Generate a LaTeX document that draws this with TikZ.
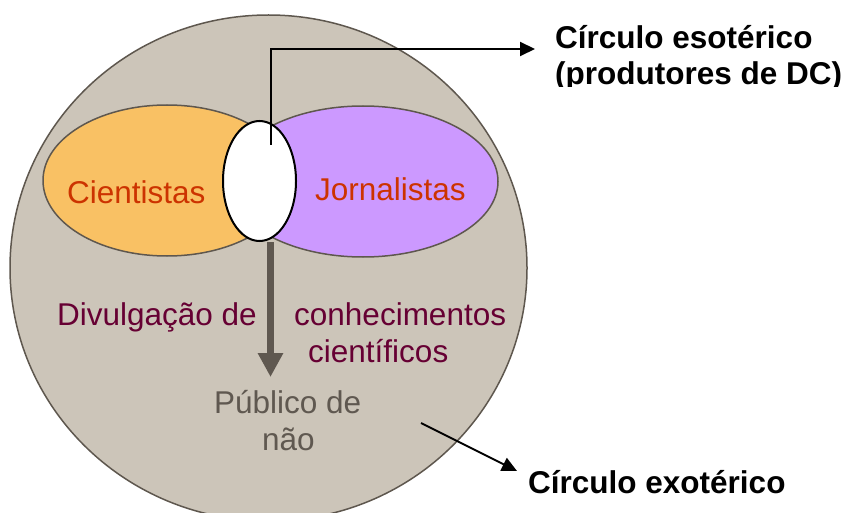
\documentclass[tikz,border=0pt]{standalone}
\usepackage{fontspec}
\setmainfont{Liberation Sans}
\usetikzlibrary{shapes.geometric,arrows.meta}

\definecolor{outerfill}{HTML}{CCC5B9}
\definecolor{rimgray}{HTML}{5E574E}
\definecolor{cientfill}{HTML}{F9C164}
\definecolor{jornfill}{HTML}{CC99FF}
\definecolor{namered}{HTML}{CC3300}
\definecolor{wine}{HTML}{660033}
\definecolor{flowgray}{HTML}{5F5850}

\tikzset{
  blob/.style={ellipse, draw=rimgray, line width=1.5pt, inner sep=0pt},
  txt/.style={anchor=base west, inner sep=0pt, font=\fontsize{31.5}{37}\selectfont},
  boldtxt/.style={txt, font=\fontsize{31.5}{37}\selectfont\bfseries},
  pointer/.style={line width=2pt, -{Triangle[width=14pt,length=15pt]}},
  flow/.style={line width=7pt, draw=flowgray, -{Triangle[width=24pt,length=24pt]}}
}

\begin{document}
\begin{tikzpicture}[x=1pt,y=-1pt]
    \useasboundingbox (0,0) rectangle (850,513);

    % circles
    \node[blob, fill=outerfill, minimum width=517, minimum height=506] (outer) at (268.5,268) {};
    \node[blob, fill=cientfill, minimum width=248, minimum height=151] (cient) at (167,180.5) {};
    \node[blob, fill=jornfill, minimum width=270, minimum height=151] (jorn) at (363,181.5) {};
    \node[ellipse, draw=black, line width=2pt, fill=white, inner sep=0pt,
          minimum width=73, minimum height=120] (core) at (259.5,181) {};

    % texts inside
    \node[txt, text=namered] (cientname) at (67,203) {Cientistas};
    \node[txt, text=namered] (jornname) at (315,200) {Jornalistas};
    \node[txt, text=wine] (divA) at (57,325) {Divulgação de};
    \node[txt, text=wine] (divB) at (294,325) {conhecimentos};
    \node[txt, text=wine] (divC) at (308,362) {científicos};
    \node[txt, text=flowgray] (pubA) at (214,413) {Público de};
    \node[txt, text=flowgray] (pubB) at (262,450) {não};

    % flow arrow
    \coordinate (flowtop) at (270.5,242);
    \coordinate (flowtip) at (270.5,377);
    \draw[flow] (flowtop) -- (flowtip);

    % esoteric label
    \begin{scope}
        \clip (540,0) rectangle (850,87);
        \node[boldtxt] (esoA) at (555,49) {Círculo esotérico};
        \node[boldtxt] (esoB) at (555,85) {(produtores de DC)};
    \end{scope}
    \coordinate (esostart) at (271,145);
    \draw[pointer] (esostart) |- ([xshift=-20]esoA.base west);

    % exoteric label
    \node[boldtxt] (exo) at (528,493) {Círculo exotérico};
    \coordinate (exostart) at (421,423);
    \coordinate (exotip) at (517,471);
    \draw[pointer] (exostart) -- (exotip);

\end{tikzpicture}
\end{document}
